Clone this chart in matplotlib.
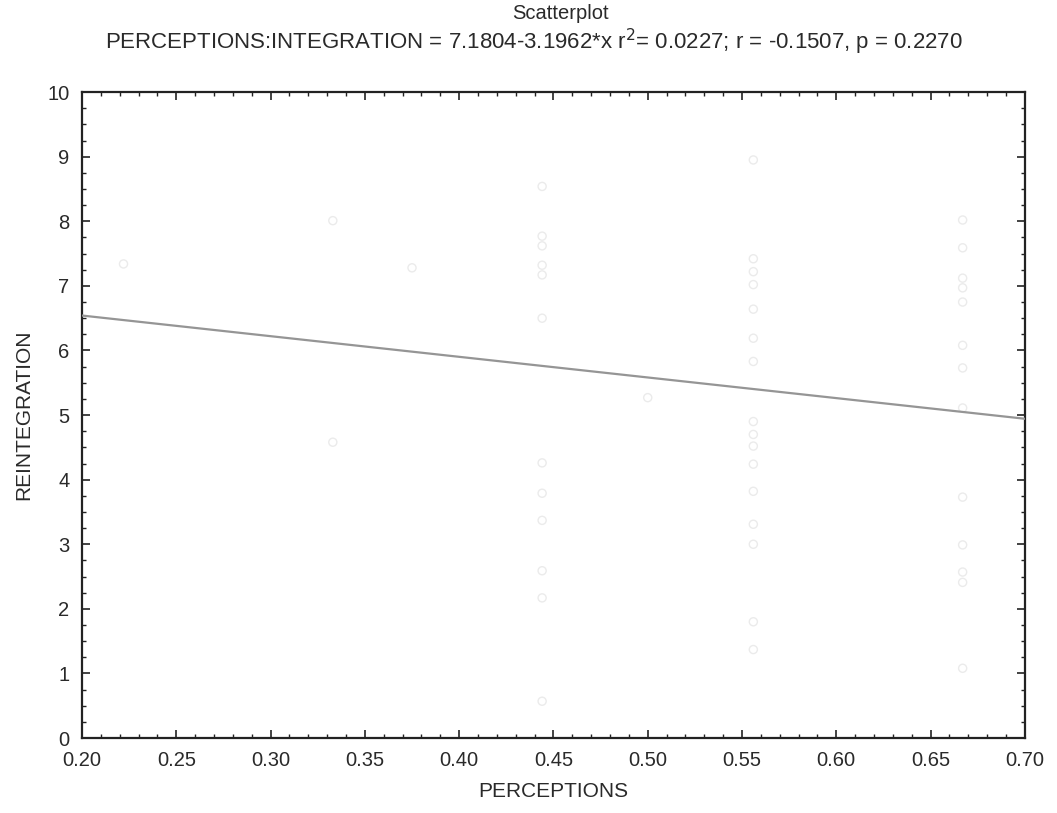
import numpy as np
import matplotlib
matplotlib.use("Agg")
import matplotlib.pyplot as plt
from matplotlib.ticker import MultipleLocator

plt.rcParams['font.family'] = ['Liberation Sans', 'DejaVu Sans']

# Data
perceptions = [
    0.222, 0.333, 0.375, 0.333, 0.5,
    0.444, 0.444, 0.444, 0.444, 0.444, 0.444, 0.444, 0.444, 0.444, 0.444, 0.444, 0.444,
    0.556, 0.556, 0.556, 0.556, 0.556, 0.556, 0.556, 0.556, 0.556, 0.556, 0.556, 0.556,
    0.556, 0.556, 0.556, 0.556,
    0.667, 0.667, 0.667, 0.667, 0.667, 0.667, 0.667, 0.667, 0.667, 0.667, 0.667, 0.667, 0.667,
]
reintegration = [
    7.34, 8.01, 7.28, 4.58, 5.27,
    8.54, 7.77, 7.62, 7.32, 7.17, 6.50, 4.26, 3.79, 3.37, 2.59, 2.17, 0.57,
    8.95, 7.42, 7.22, 7.02, 6.64, 6.19, 5.83, 4.90, 4.70, 4.52, 4.24, 3.82,
    3.31, 3.00, 1.80, 1.37,
    8.02, 7.59, 7.12, 6.97, 6.75, 6.08, 5.73, 5.11, 3.73, 2.99, 2.57, 2.41, 1.08,
]
intercept = 7.1804
slope = -3.1962

x_ticks = [0.20, 0.25, 0.30, 0.35, 0.40, 0.45, 0.50, 0.55, 0.60, 0.65, 0.70]
y_ticks = [0, 1, 2, 3, 4, 5, 6, 7, 8, 9, 10]

fig = plt.figure(figsize=(10.57, 8.13), dpi=100)
ax = fig.add_axes([0.0776, 0.0922, 0.892, 0.7945])

ax.scatter(perceptions, reintegration, s=34, facecolors='none',
           edgecolors='#ebebeb', linewidths=1.0, zorder=2)

xl = np.array([0.2, 0.7])
ax.plot(xl, intercept + slope * xl, color='#959595', lw=1.6, zorder=3)

ax.set_xlim(0.2, 0.7)
ax.set_ylim(0, 10)
ax.set_xticks(x_ticks)
ax.set_xticklabels([f"{v:.2f}" for v in x_ticks])
ax.set_yticks(y_ticks)
ax.xaxis.set_minor_locator(MultipleLocator(0.01))
ax.yaxis.set_minor_locator(MultipleLocator(0.25))
ax.tick_params(which='both', direction='in', top=True, right=True, labelsize=14.5,
               color='#222222', labelcolor='#2a2a2a')
ax.tick_params(which='major', length=6, width=1.2)
ax.tick_params(axis='x', which='major', pad=9)
ax.tick_params(axis='y', which='major', pad=9)
ax.tick_params(which='minor', length=3, width=1.0)
for s in ax.spines.values():
    s.set_linewidth(1.6)
    s.set_color('#222222')

ax.set_xlabel('PERCEPTIONS', fontsize=15, labelpad=9, color='#2a2a2a')
ax.set_ylabel('REINTEGRATION', fontsize=15, labelpad=10, color='#2a2a2a')

fig.text(0.53, 0.995, 'Scatterplot', ha='center', va='top', fontsize=14.5, color='#2a2a2a')
fig.text(0.505, 0.967,
         'PERCEPTIONS:INTEGRATION = 7.1804-3.1962*x r$^2$= 0.0227; r = -0.1507, p = 0.2270',
         ha='center', va='top', fontsize=16, color='#2a2a2a')

fig.savefig('out.png', dpi=100, facecolor='white')
